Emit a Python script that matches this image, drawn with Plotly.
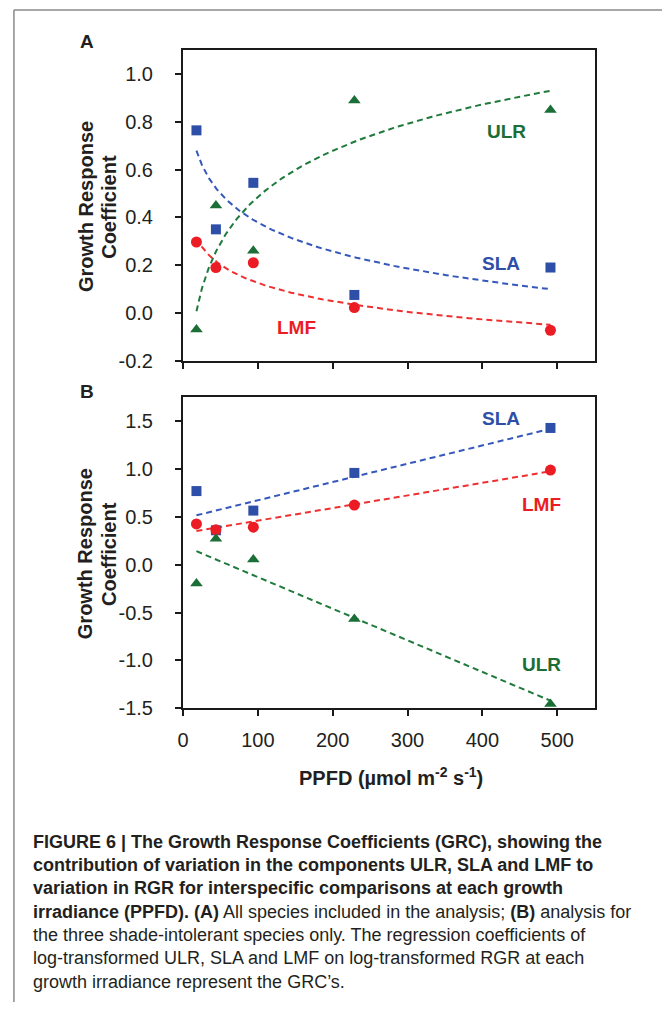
import numpy as np
import plotly.graph_objects as go

# ---------------- data ----------------
ppfd = [18, 44, 94, 229, 491]

a_ulr = [-0.07, 0.45, 0.26, 0.89, 0.85]
a_sla = [0.765, 0.35, 0.545, 0.075, 0.19]
a_lmf = [0.297, 0.19, 0.21, 0.022, -0.073]

b_sla = [0.77, 0.36, 0.566, 0.96, 1.43]
b_lmf = [0.427, 0.365, 0.393, 0.624, 0.99]
b_ulr = [-0.195, 0.272, 0.055, -0.566, -1.455]

x_ticks = [0, 100, 200, 300, 400, 500]
x_ticktext = ["0", "100", "200", "300", "400", "500"]
ya_ticks = [-0.2, 0.0, 0.2, 0.4, 0.6, 0.8, 1.0]
ya_ticktext = ["-0.2", "0.0", "0.2", "0.4", "0.6", "0.8", "1.0"]
yb_ticks = [-1.5, -1.0, -0.5, 0.0, 0.5, 1.0, 1.5]
yb_ticktext = ["-1.5", "-1.0", "-0.5", "0.0", "0.5", "1.0", "1.5"]

caption_lines = [
    "<b>FIGURE 6 | The Growth Response Coefficients (GRC), showing the</b>",
    "<b>contribution of variation in the components ULR, SLA and LMF to</b>",
    "<b>variation in RGR for interspecific comparisons at each growth</b>",
    "<b>irradiance (PPFD). (A)</b> All species included in the analysis; <b>(B)</b> analysis for",
    "the three shade-intolerant species only. The regression coefficients of",
    "log-transformed ULR, SLA and LMF on log-transformed RGR at each",
    "growth irradiance represent the GRC\u2019s.",
]

# ---------------- style ----------------
W, H = 662, 1013
BLUE = "#2E4FA8"
GREEN = "#1B6E35"
RED = "#EC1C24"
BLUE_L = "#3558BB"
GREEN_L = "#1F7A3C"
RED_L = "#EE3030"
FONT = "Liberation Sans, Arial, sans-serif"
TXT = "#231f20"


def px(x):
    return x / W


def py(y):
    return 1 - y / H


x = np.array(ppfd, dtype=float)
xl = np.log(x)
xfit_log = np.geomspace(x.min(), x.max(), 120)
xfit_lin = np.array([x.min(), x.max()])

fig = go.Figure()

# Panel A: logarithmic fits
for ys, col in [(a_ulr, GREEN_L), (a_sla, BLUE_L), (a_lmf, RED_L)]:
    b, a = np.polyfit(xl, np.array(ys), 1)
    fig.add_trace(go.Scatter(x=xfit_log, y=a + b * np.log(xfit_log), mode="lines",
                             line=dict(color=col, width=2, dash="6px,4px"),
                             xaxis="x", yaxis="y", hoverinfo="skip"))
# Panel B: linear fits
for ys, col in [(b_ulr, GREEN_L), (b_sla, BLUE_L), (b_lmf, RED_L)]:
    b, a = np.polyfit(x, np.array(ys), 1)
    fig.add_trace(go.Scatter(x=xfit_lin, y=a + b * xfit_lin, mode="lines",
                             line=dict(color=col, width=2, dash="6px,4px"),
                             xaxis="x2", yaxis="y2", hoverinfo="skip"))

marks = [
    (a_sla, BLUE, "square", 10, "x", "y"),
    (a_ulr, GREEN, "triangle-up", 11, "x", "y"),
    (a_lmf, RED, "circle", 11, "x", "y"),
    (b_sla, BLUE, "square", 10, "x2", "y2"),
    (b_lmf, RED, "circle", 11, "x2", "y2"),
    (b_ulr, GREEN, "triangle-up", 11, "x2", "y2"),
]
for ys, col, sym, sz, xa, ya in marks:
    fig.add_trace(go.Scatter(x=ppfd, y=ys, mode="markers",
                             marker=dict(color=col, symbol=sym, size=sz, line=dict(width=0)),
                             xaxis=xa, yaxis=ya, cliponaxis=False))

xdom = [px(178.6), px(594)]
axis_common = dict(showline=True, linecolor="#1a1a1a", linewidth=2, mirror=True,
                   ticks="outside", ticklen=6, tickwidth=1.5, tickcolor="#1a1a1a",
                   showgrid=False, zeroline=False,
                   tickfont=dict(family=FONT, size=20, color=TXT))

fig.update_layout(
    width=W, height=H, margin=dict(l=0, r=0, t=0, b=0),
    paper_bgcolor="white", plot_bgcolor="white", showlegend=False,
    font=dict(family=FONT, color=TXT),
    xaxis=dict(domain=xdom, range=[0, 550], tickvals=x_ticks, ticktext=x_ticktext,
               showticklabels=False, anchor="y", **axis_common),
    yaxis=dict(domain=[py(364.5), py(51)], range=[-0.2, 1.1], tickvals=ya_ticks,
               ticktext=ya_ticktext, anchor="x", ticklabelstandoff=18, **axis_common),
    xaxis2=dict(domain=xdom, range=[0, 550], tickvals=x_ticks, ticktext=x_ticktext,
                anchor="y2", ticklabelstandoff=7, **axis_common),
    yaxis2=dict(domain=[py(716), py(401.7)], range=[-1.5, 1.75], tickvals=yb_ticks,
                ticktext=yb_ticktext, anchor="x2", ticklabelstandoff=18, **axis_common),
)

ann = []
# series labels
for txt, col, xx, yy, xa, ya in [
    ("ULR", GREEN, 432.5, 0.76, "x", "y"),
    ("SLA", BLUE, 425, 0.205, "x", "y"),
    ("LMF", RED, 152, -0.062, "x", "y"),
    ("SLA", BLUE, 425.5, 1.53, "x2", "y2"),
    ("LMF", RED, 478.7, 0.625, "x2", "y2"),
    ("ULR", GREEN, 478.7, -1.04, "x2", "y2"),
]:
    ann.append(dict(text="<b>%s</b>" % txt, x=xx, y=yy, xref=xa, yref=ya, showarrow=False,
                    xanchor="center", yanchor="middle",
                    font=dict(family=FONT, size=19, color=col)))

# panel letters
for letter, yy in [("A", 42), ("B", 396)]:
    ann.append(dict(text="<b>%s</b>" % letter, x=px(81.7), y=py(yy), xref="paper", yref="paper",
                    xanchor="center", yanchor="middle", showarrow=False,
                    font=dict(family=FONT, size=19, color=TXT)))

# y-axis titles (two lines each)
for yc in [209, 560]:
    for txt, xc in [("Growth Response", 80), ("Coefficient", 104)]:
        ann.append(dict(text="<b>%s</b>" % txt, x=px(xc), y=py(yc), xref="paper", yref="paper",
                        xanchor="center", yanchor="middle", textangle=-90, showarrow=False,
                        font=dict(family=FONT, size=20, color=TXT)))

# x-axis title
ann.append(dict(text="<b>PPFD (\u00b5mol m<sup>-2</sup> s<sup>-1</sup>)</b>", x=px(389), y=py(785),
                xref="paper", yref="paper", xanchor="center", yanchor="middle", showarrow=False,
                font=dict(family=FONT, size=20, color=TXT)))

# caption
for i, line in enumerate(caption_lines):
    ann.append(dict(text=line, x=px(25), y=py(851 + i * 23.6), xref="paper", yref="paper",
                    xanchor="left", yanchor="middle", showarrow=False,
                    font=dict(family=FONT, size=18, color=TXT)))

fig.update_layout(annotations=ann)

# outer frame (top and left visible edges)
fig.add_shape(type="line", xref="paper", yref="paper", x0=px(8), x1=1.0, y0=py(10), y1=py(10),
              line=dict(color="#8a8a8a", width=1.5))
fig.add_shape(type="line", xref="paper", yref="paper", x0=px(8), x1=px(8), y0=py(10), y1=0,
              line=dict(color="#8a8a8a", width=1.5))

fig.write_html("out.html")
